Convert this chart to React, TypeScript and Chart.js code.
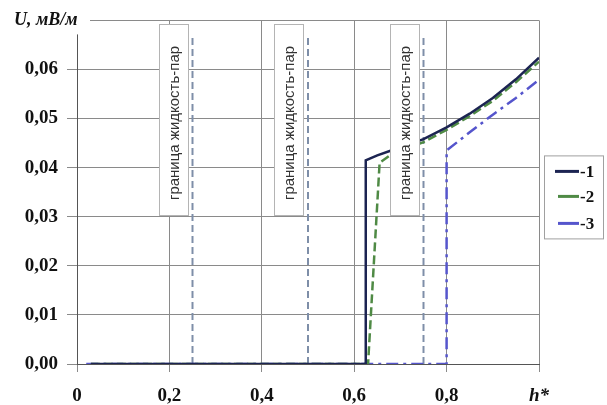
import React, { useEffect, useRef } from 'react';
import { Chart, registerables } from 'chart.js';

Chart.register(...registerables);

// ---- data ----
const xTickValues = [0, 0.2, 0.4, 0.6, 0.8, 1.0];
const yAxisTitle = 'U, мВ/м';
const xAxisTitle = 'h*';
const legendLabels = ['-1', '-2', '-3'];
const boundaryLabel = 'граница жидкость-пар';

const series1X = [0.03, 0.625, 0.625, 0.65, 0.68, 0.75, 0.8, 0.85, 0.9, 0.95, 1.0];
const series1Y = [0, 0, 0.0415, 0.0425, 0.0435, 0.0458, 0.0482, 0.051, 0.0542, 0.058, 0.0624];

const series2X = [0.03, 0.63, 0.655, 0.68, 0.75, 0.8, 0.85, 0.9, 0.95, 1.0];
const series2Y = [0, 0, 0.041, 0.0427, 0.0452, 0.0477, 0.0505, 0.0536, 0.0574, 0.0616];

const series3X = [0.02, 0.8, 0.8, 0.85, 0.9, 0.95, 1.0];
const series3Y = [0, 0, 0.0435, 0.0472, 0.0508, 0.0542, 0.0579];

const boundaryX = [0.25, 0.5, 0.75];
const boundaryTop = 0.0665;
const labelBoxTop = 0.0692;
const labelBoxBottom = 0.0301;

const seriesColors = ['#1c2452', '#4f8a45', '#5555cc'];
const boundaryColor = '#7e8ea8';

const fmtY = (v: number) => v.toFixed(2).replace('.', ',');
const fmtX = (v: number) => (v === 0 ? '0' : String(Number(v.toFixed(1))).replace('.', ','));

const pts = (xs: number[], ys: number[]) => xs.map((x, i) => ({ x, y: ys[i] }));

const overlayPlugin = {
  id: 'overlay',
  afterDraw(chart: any) {
    const { ctx, chartArea } = chart;
    const x = chart.scales.x;
    const y = chart.scales.y;
    ctx.save();
    // boundary label boxes
    boundaryX.forEach((bx) => {
      const right = Math.round(x.getPixelForValue(bx)) - 4;
      const w = 30;
      const left = right - w;
      const top = Math.round(y.getPixelForValue(labelBoxTop));
      const bottom = Math.round(y.getPixelForValue(labelBoxBottom));
      ctx.fillStyle = '#ffffff';
      ctx.fillRect(left, top, w, bottom - top);
      ctx.strokeStyle = '#b4b4b4';
      ctx.lineWidth = 1;
      ctx.strokeRect(left + 0.5, top + 0.5, w - 1, bottom - top - 1);
      ctx.save();
      ctx.translate((left + right) / 2, (top + bottom) / 2 + 3);
      ctx.rotate(-Math.PI / 2);
      ctx.fillStyle = '#333333';
      ctx.font = '15px "Liberation Sans", Arial, sans-serif';
      ctx.textAlign = 'center';
      ctx.textBaseline = 'middle';
      ctx.fillText(boundaryLabel, 0, 1);
      ctx.restore();
    });

    // legend box
    const lx = chartArea.right + 5;
    const ly = chartArea.top + 135;
    const lw = 60;
    const lh = 84;
    ctx.fillStyle = '#ffffff';
    ctx.fillRect(lx, ly, lw, lh);
    ctx.strokeStyle = '#a0a0a0';
    ctx.lineWidth = 1;
    ctx.strokeRect(lx + 0.5, ly + 0.5, lw - 1, lh - 1);
    const rows = [16, 41, 68];
    legendLabels.forEach((lab, i) => {
      const ry = ly + rows[i];
      ctx.strokeStyle = seriesColors[i];
      ctx.lineWidth = 3;
      ctx.setLineDash([]);
      ctx.beginPath();
      ctx.moveTo(lx + (i === 0 ? 11 : 14), ry);
      ctx.lineTo(lx + 35, ry);
      ctx.stroke();
      ctx.fillStyle = '#111111';
      ctx.font = 'bold 17px "Liberation Serif", "Times New Roman", serif';
      ctx.textAlign = 'left';
      ctx.textBaseline = 'middle';
      ctx.fillText(lab, lx + 36, ry + 1);
    });

    // y axis title
    ctx.fillStyle = '#ffffff';
    ctx.fillRect(0, 0, chartArea.left + 13, chartArea.top + 14);
    ctx.fillStyle = '#111111';
    ctx.font = 'italic bold 18px "Liberation Serif", "Times New Roman", serif';
    ctx.textAlign = 'left';
    ctx.textBaseline = 'middle';
    ctx.fillText(yAxisTitle, 14, chartArea.top);
    ctx.restore();
  },
};

export default function App() {
  const ref = useRef<HTMLCanvasElement | null>(null);

  useEffect(() => {
    document.body.style.margin = '0';
    const canvas = ref.current;
    if (!canvas) return;
    const boundaryDatasets = boundaryX.map((bx) => ({
      label: 'boundary',
      data: [
        { x: bx, y: 0 },
        { x: bx, y: boundaryTop },
      ],
      borderColor: boundaryColor,
      borderWidth: 2,
      borderDash: [7, 4],
      pointRadius: 0,
      fill: false,
    }));
    const chart = new Chart(canvas, {
      type: 'line',
      data: {
        datasets: [
          {
            label: legendLabels[0],
            data: pts(series1X, series1Y),
            borderColor: seriesColors[0],
            borderWidth: 2.5,
            pointRadius: 0,
            tension: 0,
            fill: false,
          },
          {
            label: legendLabels[1],
            data: pts(series2X, series2Y),
            borderColor: seriesColors[1],
            borderWidth: 2.5,
            borderDash: [9, 4],
            pointRadius: 0,
            tension: 0,
            fill: false,
          },
          {
            label: legendLabels[2],
            data: pts(series3X, series3Y),
            borderColor: seriesColors[2],
            borderWidth: 2.5,
            borderDash: [12, 5, 3, 5],
            pointRadius: 0,
            tension: 0,
            fill: false,
          },
          ...boundaryDatasets,
        ],
      },
      options: {
        animation: false,
        responsive: false,
        maintainAspectRatio: false,
        layout: { padding: { top: 18, right: 68, left: 0, bottom: 0 } },
        plugins: {
          legend: { display: false },
          tooltip: { enabled: false },
        },
        scales: {
          x: {
            type: 'linear',
            min: 0,
            max: 1,
            afterBuildTicks: (s: any) => {
              s.ticks = xTickValues.map((v) => ({ value: v }));
            },
            afterFit: (s: any) => {
              s.height = 41;
            },
            grid: {
              color: '#8a8a8a',
              lineWidth: 1,
              tickLength: 8,
              tickColor: '#8a8a8a',
            },
            border: { color: '#555555', width: 1 },
            ticks: {
              padding: 13,
              color: '#111111',
              maxRotation: 0,
              autoSkip: false,
              font: (c: any) =>
                c.tick && c.tick.value === 1
                  ? { family: '"Liberation Serif", "Times New Roman", serif', size: 19, weight: 'bold', style: 'italic' }
                  : { family: '"Liberation Serif", "Times New Roman", serif', size: 19, weight: 'bold' },
              callback: (v: any) => (Number(v) === 1 ? xAxisTitle : fmtX(Number(v))),
            },
          },
          y: {
            type: 'linear',
            min: 0,
            max: 0.07,
            afterFit: (s: any) => {
              s.width = 77;
            },
            grid: {
              color: '#8a8a8a',
              lineWidth: 1,
              tickLength: 10,
              tickColor: '#8a8a8a',
            },
            border: { color: '#555555', width: 1 },
            ticks: {
              stepSize: 0.01,
              padding: 9,
              color: '#111111',
              font: { family: '"Liberation Serif", "Times New Roman", serif', size: 19, weight: 'bold' },
              callback: (v: any) => (Math.abs(Number(v) - 0.07) < 1e-9 ? '' : fmtY(Number(v))),
            },
          },
        },
      },
      plugins: [overlayPlugin],
    } as any);
    return () => chart.destroy();
  }, []);

  return (
    <div style={{ width: 607, height: 405, background: '#fff' }}>
      <canvas ref={ref} width={607} height={405} style={{ width: 607, height: 405, display: 'block' }} />
    </div>
  );
}
